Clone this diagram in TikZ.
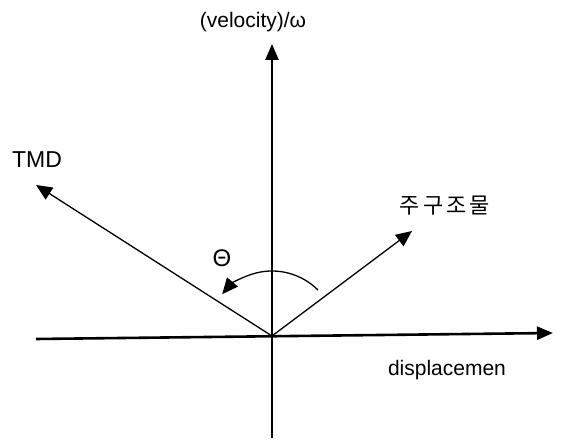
\documentclass[tikz,border=0pt]{standalone}
\usepackage{fontspec}
\setmainfont{Liberation Sans}
\newfontfamily\krfont{Noto Sans CJK KR}
\usetikzlibrary{arrows.meta}
\begin{document}
\begin{tikzpicture}[x=1pt,y=1pt,
  axis/.style={line width=2.6pt,-{Triangle[length=16pt,width=13pt]}},
  vec/.style={line width=1.3pt,-{Triangle[length=16pt,width=14pt]}},
  lbl/.style={font=\fontsize{21}{24}\selectfont, inner sep=0pt}]
\useasboundingbox (0,0) rectangle (563,441);
\coordinate (O) at (272,105);
\coordinate (xl) at (36,102);
\coordinate (xr) at (553,108);
\coordinate (yb) at (272,3);
\coordinate (yt) at (272,397);
\coordinate (tmd) at (36,256);
\coordinate (main) at (412,210);
\coordinate (arcstart) at ([shift={(45:65)}]O);
% axes
\draw[axis] (xl) -- (xr);
\draw[axis] (yb) -- (yt);
% vectors
\draw[vec] (O) -- (tmd);
\draw[vec] (O) -- (main);
% angle arc
\draw[vec] (arcstart) arc[start angle=45,end angle=140,radius=65];
% labels
\node[lbl] (vlab) at (253,419) {(velocity)/ω};
\node[lbl] (dlab) at (447,71) {displacemen};
\node[lbl,font=\fontsize{23}{26}\selectfont] (tlab) at (37,281) {TMD};
\node[lbl,font=\krfont\fontsize{22}{26}\selectfont\addfontfeature{LetterSpace=14}] (klab) at (445,235) {주구조물};
\node[lbl,font=\fontsize{24}{28}\selectfont] (thlab) at (222,183) {Θ};
\end{tikzpicture}
\end{document}
